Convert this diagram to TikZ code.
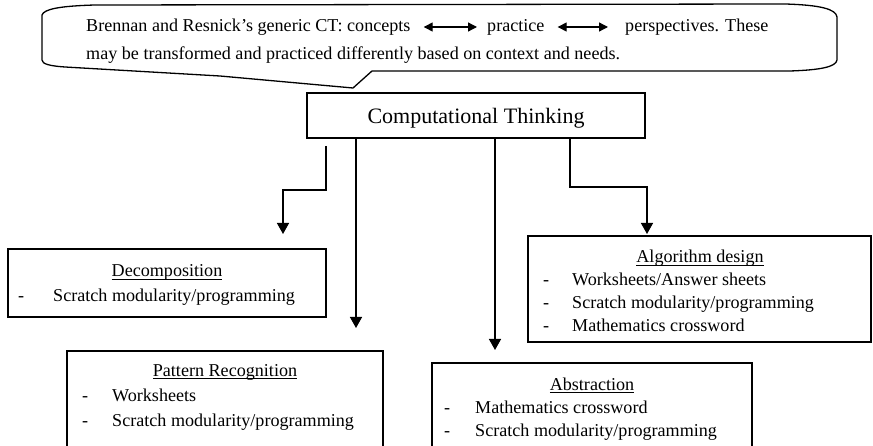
\documentclass[tikz,border=0pt]{standalone}
\usepackage{fontspec}
\setmainfont{Liberation Serif}
\usetikzlibrary{arrows.meta}
\newcommand\myul[1]{{\setbox0\hbox{#1}\rlap{\rule[-3pt]{\wd0}{0.9pt}}\box0}}
\begin{document}
\begin{tikzpicture}[x=1pt,y=-1pt,
  box/.style={draw, line width=1.3pt, anchor=north west, inner sep=0pt, outer sep=0pt},
  txt/.style={anchor=base west, inner sep=0pt, font=\fontsize{18.1}{22}\selectfont},
  ttl/.style={anchor=base, inner sep=0pt, font=\fontsize{18.1}{22}\selectfont},
  arr/.style={-{Triangle[length=11pt,width=12pt]}, line width=1.4pt},
  dbl/.style={{Triangle[length=9pt,width=9pt]}-{Triangle[length=9pt,width=9pt]}, line width=1.3pt}]
\useasboundingbox (0,0) rectangle (873,446);
\clip (0,0) rectangle (873,446);
% callout
\draw[line width=1.3pt] (42,15) .. controls (44,9) and (60,6) .. (95,5) -- (785,4)
  .. controls (820,5) and (836,9) .. (837,17) -- (837,60)
  .. controls (836,67) and (820,70) .. (790,71) -- (372,71) -- (353,88)
  -- (220,76) -- (65,67) .. controls (50,66) and (42,64) .. (42,60) -- cycle;
\node[txt] (t1) at (86,32) {Brennan and Resnick’s generic CT: concepts};
\node[txt] (t2) at (487,32) {practice};
\node[txt] (t3) at (625,32) {perspectives. These};
\node[txt] (t4) at (86,60) {may be transformed and practiced differently based on context and needs.};
\draw[dbl] ([xshift=13pt,yshift=5pt]t1.base east) -- ([xshift=-10pt,yshift=5pt]t2.base west);
\draw[dbl] ([xshift=13pt,yshift=5pt]t2.base east) -- ([xshift=-17pt,yshift=5pt]t3.base west);
% boxes
\node[box, minimum width=338pt, minimum height=45pt] (ct) at (307,93) {};
\node[anchor=base, inner sep=0pt, font=\fontsize{22}{26}\selectfont] (ctt) at (476,124) {Computational Thinking};
\node[box, minimum width=318pt, minimum height=68pt] (dec) at (8,249) {};
\node[box, minimum width=316pt, minimum height=120pt] (pat) at (67,351) {};
\node[box, minimum width=343pt, minimum height=106pt] (alg) at (528,236) {};
\node[box, minimum width=320pt, minimum height=120pt] (abs) at (432,363) {};
% Decomposition
\node[ttl] (dect) at (167,277) {\myul{Decomposition}};
\node[txt] (decd1) at (18,302) {-};
\node[txt] (deci1) at (53,302) {Scratch modularity/programming};
% Pattern recognition
\node[ttl] (patt) at (225,376) {\myul{Pattern Recognition}};
\node[txt] (patd1) at (82,401) {-};
\node[txt] (pati1) at (112,401) {Worksheets};
\node[txt] (patd2) at (82,426) {-};
\node[txt] (pati2) at (112,426) {Scratch modularity/programming};
% Algorithm design
\node[ttl] (algt) at (700,263) {\myul{Algorithm design}};
\node[txt] (algd1) at (543,286) {-};
\node[txt] (algi1) at (572,286) {Worksheets/Answer sheets};
\node[txt] (algd2) at (543,309) {-};
\node[txt] (algi2) at (572,309) {Scratch modularity/programming};
\node[txt] (algd3) at (543,331) {-};
\node[txt] (algi3) at (572,331) {Mathematics crossword};
% Abstraction
\node[ttl] (abst) at (592,390) {\myul{Abstraction}};
\node[txt] (absd1) at (444,413) {-};
\node[txt] (absi1) at (475,413) {Mathematics crossword};
\node[txt] (absd2) at (444,436) {-};
\node[txt] (absi2) at (475,436) {Scratch modularity/programming};
% connectors
\coordinate (d0) at (326,146);
\coordinate (d1) at (326,190);
\coordinate (d2) at (283,190);
\coordinate (d3) at (283,234);
\draw[arr] (d0) -- (d1) -- (d2) -- (d3);
\coordinate (p1) at (356,328);
\draw[arr] (ct.south -| p1) -- (p1);
\coordinate (b1) at (495,350);
\draw[arr] (ct.south -| b1) -- (b1);
\coordinate (a0) at (570,187);
\coordinate (a1) at (647,187);
\coordinate (a2) at (647,234);
\draw[arr] (ct.south -| a0) -- (a0) -- (a1) -- (a2);
\end{tikzpicture}
\end{document}
